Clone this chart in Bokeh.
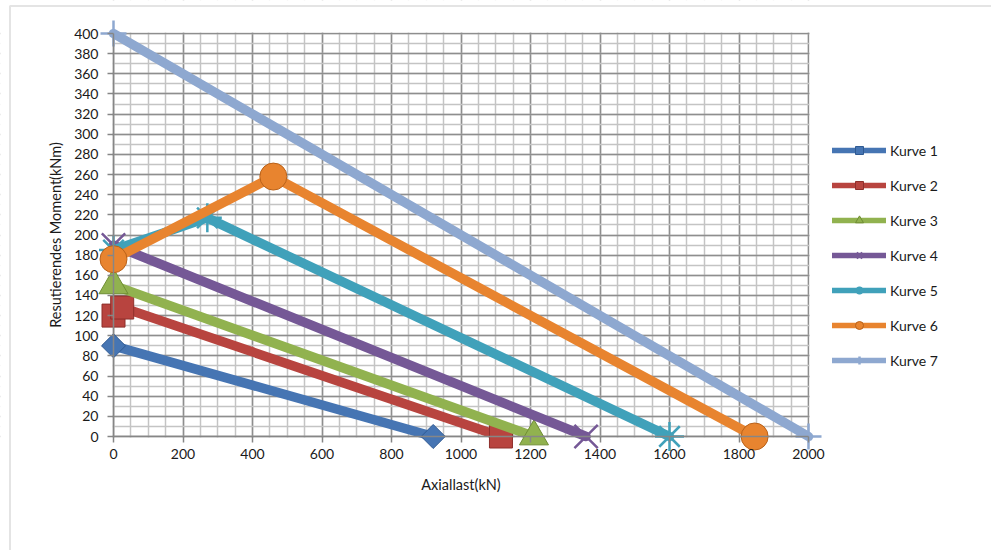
from math import pi
from bokeh.plotting import figure
from bokeh.models import Range1d, FixedTicker, BoxAnnotation, Legend, LegendItem
from bokeh.embed import file_html
from bokeh.resources import INLINE

# ---------------- data ----------------
names = ["Kurve 1", "Kurve 2", "Kurve 3", "Kurve 4", "Kurve 5", "Kurve 6", "Kurve 7"]
k1_x = [0, 920]
k1_y = [90, 0]
k2_x = [0, 25, 1115]
k2_y = [120, 128, 0]
k3_x = [0, 1210]
k3_y = [150, 0]
k4_x = [0, 1360]
k4_y = [190, 0]
k5_x = [0, 270, 1600]
k5_y = [185, 217, 0]
k6_x = [0, 460, 1845]
k6_y = [176, 258, 0]
k7_x = [0, 2000]
k7_y = [400, 0]

x_ticks = list(range(0, 2001, 200))
x_minor = list(range(0, 2001, 50))
y_ticks = list(range(0, 401, 20))
y_minor = list(range(0, 401, 10))

xs = [k1_x, k2_x, k3_x, k4_x, k5_x, k6_x, k7_x]
ys = [k1_y, k2_y, k3_y, k4_y, k5_y, k6_y, k7_y]

# ---------------- style / layout ----------------
colors = ["#4675B3", "#B8443F", "#91B24F", "#755896", "#40A1BA", "#E8842F", "#8EA8D0"]
edges = ["#2F5A92", "#8E2F2B", "#6F8E33", "#553C74", "#2A7F96", "#B9621A", "#6F8AB5"]
markers = ["square", "square", "triangle", "x", "asterisk", "circle", "cross"]
msizes = [17, 23, 29, 33, 29, 27, 26]
angles = [pi / 4, 0, 0, 0, 0, 0, 0]
FONT = "Lato"
FS = "14px"
FS_AX = "14.5px"
TXT = "#1a1a1a"

W, H = 991, 550
xmin, xmax = 0, 2000
ymin, ymax = 0, 400
X0_PX, X1_PX = 113, 808   # canvas columns of xmin / xmax
Y0_PX, Y1_PX = 436, 33    # canvas rows of ymin / ymax
sx = (X1_PX - X0_PX) / (xmax - xmin)
sy = (Y0_PX - Y1_PX) / (ymax - ymin)
xr0 = xmin - X0_PX / sx
xr1 = xmax + (W - X1_PX) / sx
yr0 = ymin - (H - Y0_PX) / sy
yr1 = ymax + Y1_PX / sy

p = figure(width=W, height=H, output_backend="svg", toolbar_location=None,
           x_range=Range1d(xr0, xr1), y_range=Range1d(yr0, yr1),
           min_border_left=0, min_border_right=0,
           min_border_top=0, min_border_bottom=0)
p.outline_line_color = None
p.background_fill_color = "white"
p.border_fill_color = "white"

xt = FixedTicker(ticks=x_ticks, minor_ticks=x_minor)
yt = FixedTicker(ticks=y_ticks, minor_ticks=y_minor)
p.xaxis.ticker = xt
p.yaxis.ticker = yt
p.xgrid.ticker = xt
p.ygrid.ticker = yt

for g in (p.xgrid, p.ygrid):
    g.grid_line_color = "#8E8E8E"
    g.grid_line_width = 1.5
    g.minor_grid_line_color = "#C4C4C4"
    g.minor_grid_line_width = 1.5

# white masks: trim the grid to the data rectangle (all edges explicit)
ox = 1.0 / sx
oy = 1.0 / sy
FX0, FX1 = xr0 - 5000, xr1 + 5000
FY0, FY1 = yr0 - 5000, yr1 + 5000
mask_boxes = [
    (FX0, xmin - ox, FY0, FY1),
    (xmax + ox, FX1, FY0, FY1),
    (FX0, FX1, FY0, ymin - oy),
    (FX0, FX1, ymax + oy, FY1),
]
for (l, r, b, t) in mask_boxes:
    p.add_layout(BoxAnnotation(left=l, right=r, bottom=b, top=t,
                               fill_color="white", fill_alpha=1.0, line_alpha=0,
                               level="underlay"))

# outer chart-area border (left & top visible, the rest runs off the picture)
BL_PX, BT_PX = 9.5, 5.5
p.add_layout(BoxAnnotation(left=xmin - (X0_PX - BL_PX) / sx, right=FX1,
                           top=ymax + (Y1_PX - BT_PX) / sy, bottom=FY0,
                           fill_alpha=0, line_color="#A6A6A6", line_width=2,
                           level="underlay"))

for ax in (p.xaxis[0], p.yaxis[0]):
    ax.axis_line_color = "#868686"
    ax.axis_line_width = 1.5
    ax.major_tick_line_color = "#868686"
    ax.major_tick_line_width = 1.5
    ax.major_tick_out = 6
    ax.major_tick_in = 0
    ax.minor_tick_out = 0
    ax.minor_tick_in = 0
    ax.major_label_text_font = FONT
    ax.major_label_text_font_size = FS
    ax.major_label_text_color = TXT
    ax.axis_label_text_font = FONT
    ax.axis_label_text_font_size = FS_AX
    ax.axis_label_text_font_style = "normal"
    ax.axis_label_text_color = TXT

p.xaxis.fixed_location = ymin
p.yaxis.fixed_location = xmin
p.xaxis.bounds = (xmin, xmax)
p.yaxis.bounds = (ymin, ymax)
p.xaxis.axis_label = "Axiallast(kN)"
p.yaxis.axis_label = "Resutierendes Moment(kNm)"
p.xaxis.major_label_standoff = 6
p.yaxis.major_label_standoff = 9
p.xaxis.axis_label_standoff = 14
p.yaxis.axis_label_standoff = 7

items = []
for i in range(7):
    c = colors[i]
    # thinner line used for the legend key; hidden beneath the thick series line
    lr = p.line(xs[i], ys[i], line_color=c, line_width=5.5, line_cap="round",
                line_join="round")
    p.line(xs[i], ys[i], line_color=c, line_width=9.5, line_cap="round",
           line_join="round")
    if markers[i] in ("x", "asterisk", "cross"):
        sr = p.scatter(xs[i], ys[i], marker=markers[i], size=msizes[i], line_color=c,
                       line_width=2.5)
    else:
        sr = p.scatter(xs[i], ys[i], marker=markers[i], size=msizes[i], angle=angles[i],
                       fill_color=c, line_color=edges[i], line_width=1)
    items.append(LegendItem(label=names[i], renderers=[lr, sr]))

lg = Legend(items=items)
lg.location = (832, H - 370)
lg.padding = 0
lg.margin = 0
lg.border_line_color = None
lg.background_fill_alpha = 0
lg.glyph_width = 54
lg.glyph_height = 20
lg.label_height = 20
lg.spacing = 15
lg.label_standoff = 4
lg.label_text_font = FONT
lg.label_text_font_size = FS
lg.label_text_color = TXT
lg.label_text_baseline = "middle"
p.add_layout(lg, "center")

open("out.html", "w").write(file_html(p, INLINE))
